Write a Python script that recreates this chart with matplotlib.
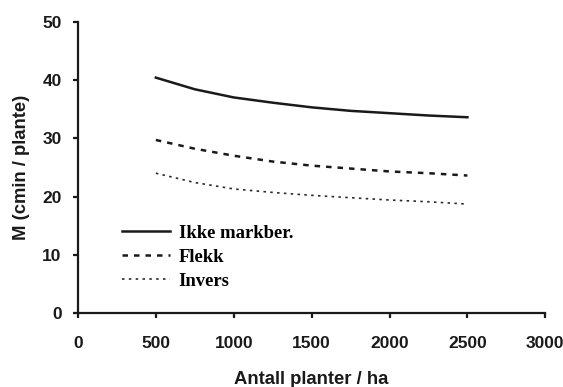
import matplotlib
matplotlib.use('Agg')
import matplotlib.pyplot as plt

# Data
planter = [500, 750, 1000, 1250, 1500, 1750, 2000, 2250, 2500]
ikke_markber = [40.4, 38.4, 37.0, 36.1, 35.3, 34.7, 34.3, 33.9, 33.6]
flekk = [29.7, 28.2, 27.0, 26.0, 25.3, 24.8, 24.3, 24.0, 23.6]
invers = [24.0, 22.4, 21.3, 20.7, 20.2, 19.8, 19.4, 19.1, 18.7]

x_ticks = [0, 500, 1000, 1500, 2000, 2500, 3000]
y_ticks = [0, 10, 20, 30, 40, 50]

plt.rcParams['font.family'] = ['Liberation Sans', 'DejaVu Sans']

fig = plt.figure(figsize=(5.63, 3.87), dpi=100)
ax = fig.add_axes([0.1385, 0.191, 0.830, 0.753])

ax.plot(planter, ikke_markber, color='#1a1a1a', lw=1.8, label='Ikke markber.')
ax.plot(planter, flekk, color='#1a1a1a', lw=1.8, dashes=(2.2, 2.4), label='Flekk')
ax.plot(planter, invers, color='#2a2a2a', lw=1.2, dashes=(1.5, 2.6), label='Invers')

ax.set_xlim(0, 3000)
ax.set_ylim(0, 50)
ax.set_xticks(x_ticks)
ax.set_yticks(y_ticks)

for side in ['top', 'right']:
    ax.spines[side].set_visible(False)
for side in ['left', 'bottom']:
    ax.spines[side].set_linewidth(1.6)
    ax.spines[side].set_color('#1a1a1a')

ax.tick_params(direction='out', length=3.8, width=1.6, colors='#1a1a1a',
               labelsize=12.5)
ax.tick_params(axis='y', pad=8)
ax.tick_params(axis='x', pad=13)
for lbl in ax.get_xticklabels() + ax.get_yticklabels():
    lbl.set_fontweight('bold')

ax.set_xlabel('Antall planter / ha', fontsize=13.3, fontweight='bold',
              color='#1a1a1a', labelpad=14)
ax.set_ylabel('M (cmin / plante)', fontsize=13.3, fontweight='bold',
              color='#1a1a1a', labelpad=9)

ax.legend(loc='center left', bbox_to_anchor=(0.094, 0.192), frameon=False,
          prop={'family': 'Liberation Serif', 'weight': 'bold', 'size': 13.4},
          handlelength=2.6, handletextpad=0.45, labelspacing=0.37,
          borderaxespad=0, borderpad=0)

fig.savefig('out.png', dpi=100)
